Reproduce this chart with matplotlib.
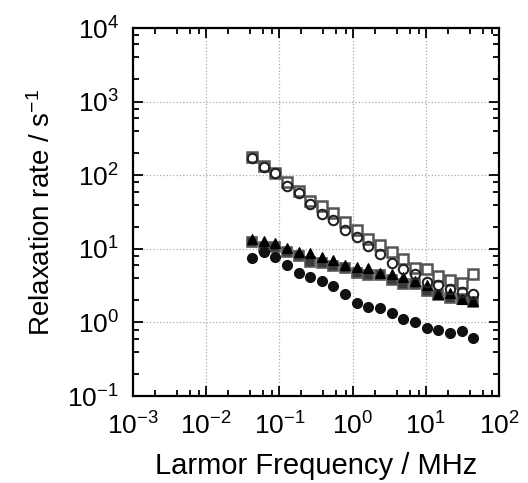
import matplotlib
matplotlib.use("Agg")
import matplotlib.pyplot as plt
from matplotlib.ticker import LogLocator, NullFormatter

plt.rcParams['font.family'] = ['Liberation Sans', 'DejaVu Sans']
plt.rcParams['mathtext.fontset'] = 'custom'
plt.rcParams['mathtext.rm'] = 'Liberation Sans'
plt.rcParams['mathtext.it'] = 'Liberation Sans'

# Larmor frequency (MHz)
freq = [0.0423, 0.0610, 0.0879, 0.127, 0.183, 0.264, 0.380, 0.548, 0.791, 1.14,
        1.64, 2.37, 3.42, 4.93, 7.11, 10.3, 14.8, 21.3, 30.8, 44.4]

# relaxation rates (1/s)
open_squares = [177, 134, 108, 82, 62, 45, 37.7, 30.6, 23.2, 18.2,
                13.6, 11.4, 9.2, 7.3, 5.5, 5.25, 4.27, 3.77, 3.47, 4.5]
open_circles = [170, 131, 106, 72, 57, 41, 29.7, 24.9, 18.2, 14.5,
                10.8, 8.4, 6.5, 5.4, 4.5, 3.54, 3.19, 2.82, 2.6, 2.41]
filled_squares = [12.3, 10.6, 10.6, 9.0, 7.9, 6.6, 6.5, 5.8, 5.5, 4.7,
                  4.36, 4.36, 3.77, 3.3, 3.3, 2.67, 2.34, 2.18, 2.06, 1.9]
filled_triangles = [13.6, 12.7, 12.0, 10.3, 9.0, 8.8, 7.8, 7.0, 6.1, 5.7,
                    5.5, 4.7, 4.5, 4.2, 3.65, 3.2, 2.4, 2.5, 2.1, 1.96]
filled_circles = [7.6, 9.0, 7.8, 6.1, 4.7, 4.1, 3.7, 3.1, 2.4, 1.86,
                  1.63, 1.56, 1.34, 1.13, 1.02, 0.83, 0.79, 0.73, 0.76, 0.61]

fig = plt.figure(figsize=(5.28, 4.83), dpi=100)
ax = fig.add_axes([0.252, 0.180, 0.693, 0.762])

ax.plot(freq, filled_squares, 's', ms=7.2, mfc='#3a3a3a', mec='#5a5a5a', mew=1.2, zorder=3)
ax.plot(freq, filled_triangles, '^', ms=7.5, mfc='black', mec='black', mew=0.8, zorder=4)
ax.plot(freq, filled_circles, 'o', ms=7.0, mfc='#111111', mec='#111111', zorder=4)
ax.plot(freq, open_squares, 's', ms=7.4, mfc='white', mec='#555555', mew=1.8, zorder=5)
ax.plot(freq, open_circles, 'o', ms=6.8, mfc='none', mec='#222222', mew=1.5, zorder=6)

ax.set_xscale('log')
ax.set_yscale('log')
ax.set_xlim(1e-3, 1e2)
ax.set_ylim(1e-1, 1e4)

ax.xaxis.set_major_locator(LogLocator(base=10, numticks=10))
ax.yaxis.set_major_locator(LogLocator(base=10, numticks=10))
ax.xaxis.set_minor_locator(LogLocator(base=10, subs=[2, 4, 6, 8], numticks=20))
ax.yaxis.set_minor_locator(LogLocator(base=10, subs=[2, 4, 6, 8], numticks=20))
ax.xaxis.set_minor_formatter(NullFormatter())
ax.yaxis.set_minor_formatter(NullFormatter())

ax.grid(True, which='major', linestyle=':', color='#aaaaaa', linewidth=0.9)
ax.tick_params(which='both', direction='in', top=True, right=True, labelsize=19, width=1.3)
ax.tick_params(which='major', length=7)
ax.tick_params(which='minor', length=4)
ax.tick_params(axis='x', which='major', pad=12)
ax.tick_params(axis='y', which='major', pad=10)
for s in ax.spines.values():
    s.set_linewidth(1.6)

ax.set_xlabel('Larmor Frequency / MHz', fontsize=21, labelpad=9)
ax.set_ylabel('Relaxation rate / s$^{-1}$', fontsize=20, labelpad=8)

fig.savefig('out.png', dpi=100)
